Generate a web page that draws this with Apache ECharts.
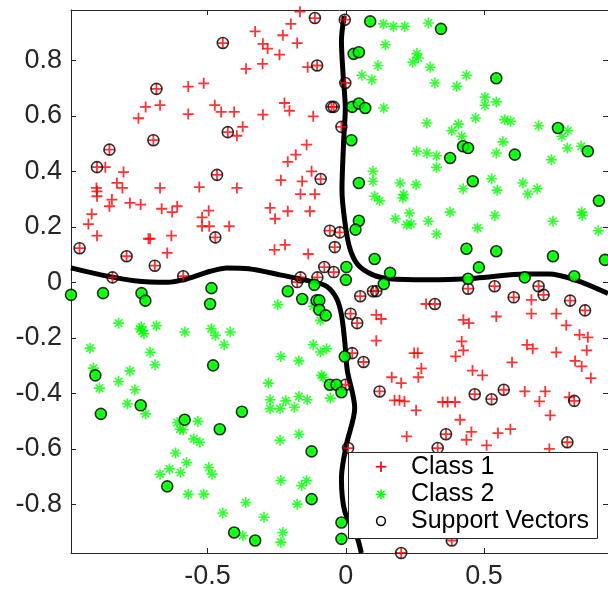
<!DOCTYPE html>
<html><head><meta charset="utf-8">
<script src="https://cdn.jsdelivr.net/npm/echarts@6/dist/echarts.min.js"></script>
<style>html,body{margin:0;padding:0;background:#fff}#c{width:608px;height:592px}</style>
</head><body><div id="c"></div>
<script>
// Class 1 (red +), not support vectors
const class1 = [
[-0.361,0.769],[-0.570,0.705],[-0.514,0.717],[-0.724,0.632],[-0.672,0.638],[-0.750,0.591],[-0.570,0.606],[-0.474,0.638],[-0.451,0.614],[-0.404,0.614],[-0.373,0.560],[-0.394,0.528],[-0.870,0.415],[-0.804,0.397],[-0.828,0.358],[-0.808,0.340],[-0.902,0.340],[-0.672,0.340],[-0.530,0.343],[-0.394,0.340],
[-0.166,0.975],[-0.199,0.931],[-0.328,0.904],[-0.228,0.890],[-0.300,0.859],[-0.283,0.842],[-0.176,0.862],[-0.240,0.820],[-0.301,0.787],[-0.138,0.775],[-0.222,0.646],[-0.204,0.618],[-0.300,0.604],[-0.118,0.598],[-0.142,0.496],[-0.181,0.460],[-0.210,0.434],[-0.124,0.400],[-0.235,0.368],[-0.158,0.364],
[-0.900,0.328],[-0.900,0.310],[-0.846,0.298],[-0.855,0.274],[-0.781,0.286],[-0.742,0.280],[-0.666,0.265],[-0.628,0.253],[-0.610,0.274],[-0.919,0.246],[-0.931,0.210],[-0.900,0.168],[-0.496,0.258],[-0.520,0.234],[-0.520,0.202],[-0.494,0.202],[-0.422,0.202],[-0.714,0.157],[-0.708,0.157],[-0.631,0.168],[-0.646,0.106],
[-0.164,0.318],[-0.112,0.318],[-0.274,0.268],[-0.256,0.229],[-0.210,0.256],[-0.130,0.256],[-0.258,0.117],[-0.220,0.135],[-0.136,0.102],[0.110,-0.117],[0.128,-0.132],[0.110,-0.210],[0.290,-0.078],[0.247,-0.255],[0.260,-0.255],[0.273,-0.310],
[0.671,-0.063],[0.671,-0.113],[0.544,-0.123],[0.761,-0.113],[0.797,-0.155],[0.425,-0.135],[0.445,-0.147],[0.845,-0.189],[0.875,-0.198],[0.419,-0.213],[0.425,-0.245],[0.397,-0.267],[0.655,-0.225],[0.676,-0.239],[0.761,-0.252],[0.871,-0.245],[0.829,-0.283],[0.853,-0.303],[0.601,-0.288],[0.458,-0.318],
[0.166,-0.342],[0.200,-0.363],[0.262,-0.342],[0.176,-0.425],[0.194,-0.425],[0.212,-0.429],[0.254,-0.461],[0.220,-0.555],
[0.494,-0.335],[0.886,-0.345],[0.647,-0.393],[0.721,-0.393],[0.700,-0.429],[0.739,-0.479],[0.808,-0.414],[0.350,-0.431],[0.368,-0.431],[0.395,-0.431],[0.413,-0.495],[0.454,-0.539],[0.436,-0.567],[0.550,-0.543],[0.595,-0.529],[0.509,-0.587],[0.736,-0.600]
];
// Class 1 support vectors
const sv1 = [
[-0.445,0.862],[-0.685,0.697],[-0.427,0.541],[-0.696,0.512],[-0.855,0.478],[-0.900,0.415],[-0.466,0.387],
[-0.112,0.952],[-0.004,0.946],[-0.104,0.781],[-0.002,0.718],[-0.052,0.632],[-0.044,0.632],[-0.016,0.560],[-0.091,0.372],
[-0.472,0.162],[-0.963,0.123],[-0.793,0.094],[-0.691,0.060],[-0.844,0.018],[-0.588,0.022],
[-0.058,0.186],[-0.022,0.180],[-0.040,0.127],[-0.078,0.055],[-0.044,0.037],[-0.103,0.018],[-0.164,0.018],[-0.176,0.001],
[0.052,-0.050],[0.098,-0.032],[0.110,-0.032],[0.017,-0.113],[0.041,-0.147],[0.023,-0.255],[0.064,-0.287],
[0.442,-0.023],[0.538,-0.014],[0.697,-0.014],[0.715,-0.045],[0.607,-0.054],[0.811,-0.066],[0.865,-0.101],[0.322,-0.078],
[-0.001,-0.369],[0.122,-0.393],[0.008,-0.597],[0.200,-0.975],
[0.466,-0.403],[0.527,-0.421],[0.571,-0.387],[0.826,-0.427],[0.362,-0.547],[0.801,-0.576],[0.332,-0.597],[0.383,-0.930]
];
// Class 2 (green *), not support vectors
const class2 = [
[0.136,0.931],[0.172,0.922],[0.213,0.922],[0.298,0.934],[0.143,0.856],[0.257,0.824],[0.262,0.808],[0.242,0.793],[0.116,0.781],[0.305,0.775],[0.058,0.746],[0.094,0.730],[0.137,0.628],[0.293,0.574],[0.256,0.472],[0.293,0.466],[0.098,0.400],[0.098,0.364],[0.196,0.358],[0.254,0.352],
[0.436,0.746],[0.322,0.718],[0.401,0.706],[0.503,0.667],[0.503,0.638],[0.544,0.650],[0.469,0.592],[0.574,0.586],[0.596,0.580],[0.407,0.570],[0.383,0.546],[0.419,0.526],[0.328,0.456],[0.328,0.414],[0.568,0.506],[0.544,0.466],[0.697,0.564],[0.803,0.546],[0.781,0.526],[0.801,0.484],[0.851,0.490],[0.743,0.442],[0.527,0.373],[0.640,0.358],[0.692,0.337],[0.424,0.337],[0.547,0.332],
[-0.822,-0.147],[-0.745,-0.168],[-0.736,-0.175],[-0.730,-0.185],[-0.740,-0.160],[-0.685,-0.156],[-0.582,-0.179],[-0.487,-0.167],[-0.472,-0.191],[-0.418,-0.179],[-0.440,-0.225],[-0.925,-0.237],[-0.708,-0.252],[-0.690,-0.297],[-0.913,-0.309],[-0.781,-0.319],
[-0.246,-0.081],[-0.118,-0.086],[-0.092,-0.137],[-0.118,-0.225],[-0.070,-0.239],[-0.092,-0.251],[-0.235,-0.267],[-0.170,-0.283],[0.104,0.310],[0.122,0.294],[0.209,0.316],[0.206,0.304],[0.230,0.250],[0.179,0.229],[0.220,0.208],[0.236,0.210],[0.298,0.220],
[0.658,0.318],[0.377,0.253],[0.539,0.241],[0.328,0.174],[0.476,0.196],[0.749,0.220],[0.853,0.253],[0.855,0.241],[0.913,0.186],
[-0.891,-0.381],[-0.822,-0.357],[-0.763,-0.387],[-0.790,-0.437],[-0.724,-0.474],[-0.610,-0.505],[-0.600,-0.529],[-0.588,-0.531],[-0.535,-0.501],[-0.550,-0.564],[-0.528,-0.576],[-0.616,-0.615],[-0.576,-0.649],[-0.672,-0.691],[-0.638,-0.672],[-0.598,-0.685],[-0.496,-0.667],[-0.484,-0.691],[-0.570,-0.763],[-0.514,-0.763],[-0.362,-0.793],[-0.445,-0.831],[-0.373,-0.913],
[-0.082,-0.342],[-0.088,-0.335],[-0.280,-0.363],[-0.274,-0.423],[-0.274,-0.455],[-0.238,-0.455],[-0.217,-0.427],[-0.186,-0.450],[-0.170,-0.411],[-0.140,-0.423],[-0.056,-0.417],[-0.238,-0.569],[-0.170,-0.547],[-0.235,-0.714],[-0.160,-0.732],[-0.142,-0.714],[-0.176,-0.799],[-0.296,-0.846],[-0.228,-0.901],[-0.235,-0.936]
];
// Class 2 support vectors
const sv2 = [
[0.088,0.940],[0.028,0.823],[0.047,0.829],[0.023,0.632],[0.047,0.644],[0.070,0.628],[0.020,0.512],[0.047,0.358],
[0.344,0.913],[0.544,0.735],[0.424,0.490],[0.442,0.484],[0.377,0.448],[0.611,0.460],[0.767,0.556],[0.875,0.472],[0.459,0.364],
[-0.994,-0.045],[-0.878,-0.039],[-0.739,-0.039],[-0.725,-0.066],[-0.486,-0.021],[-0.491,-0.078],[-0.480,-0.299],
[0.047,0.222],[0.035,0.190],[0.104,0.084],[0.002,0.055],[0.000,0.009],[0.160,0.034],[0.137,-0.006],[-0.114,-0.009],[-0.210,-0.032],[-0.158,-0.060],[-0.106,-0.065],[-0.096,-0.065],[-0.096,-0.099],[-0.073,-0.119],[-0.004,-0.267],
[0.915,0.294],[0.436,0.121],[0.544,0.112],[0.749,0.094],[0.937,0.081],[0.481,0.054],[0.442,0.013],[0.647,0.018],[0.826,0.022],
[-0.906,-0.335],[-0.886,-0.474],[-0.742,-0.443],[-0.583,-0.495],[-0.456,-0.529],[-0.376,-0.466],[-0.646,-0.735],[-0.404,-0.901],
[-0.058,-0.369],[-0.034,-0.369],[-0.016,-0.396],[-0.124,-0.609],[-0.124,-0.781],[-0.328,-0.930],[-0.016,-0.865],[-0.016,-0.924]
];
// decision boundary (two contour pieces)
const boundaryA = [
[-0.006,0.960],[-0.016,0.870],[-0.010,0.747],[-0.002,0.628],[-0.008,0.509],[-0.014,0.333],[-0.004,0.221],[0.014,0.124],[0.044,0.063],[0.098,0.027],[0.158,0.013],[0.297,0.009],[0.469,0.015],[0.649,0.030],[0.733,0.030],[0.829,0.009],[0.948,-0.040]
];
const boundaryB = [
[-0.994,0.052],[-0.886,0.027],[-0.765,0.006],[-0.646,0.000],[-0.574,0.013],[-0.490,0.040],[-0.430,0.052],[-0.351,0.049],[-0.238,0.027],[-0.118,0.001],[-0.070,-0.014],[-0.034,-0.057],[-0.016,-0.117],[-0.004,-0.213],[0.005,-0.316],[0.032,-0.453],[0.002,-0.585],[-0.016,-0.705],[-0.004,-0.825],[0.038,-0.910],[0.056,-0.975]
];
const xTicks = [-0.5, 0, 0.5];
const yTicks = [-0.8, -0.6, -0.4, -0.2, 0, 0.2, 0.4, 0.6, 0.8];
const xRange = [-0.994, 0.948];
const yRange = [-0.975, 0.981];
const legendNames = ['Class 1', 'Class 2', 'Support Vectors'];

const AX = '#262626';
const FONT = '"Liberation Sans", Arial, Helvetica, sans-serif';
const PLUS = 'path://M0,5L10,5M5,0L5,10';
const STAR = 'path://M0,5L10,5M5,0L5,10M1.6,1.6L8.4,8.4M1.6,8.4L8.4,1.6';

const chart = echarts.init(document.getElementById('c'), null, {renderer: 'canvas'});
const baseX = {type: 'value', min: xRange[0], max: xRange[1], splitLine: {show: false}};
const baseY = {type: 'value', min: yRange[0], max: yRange[1], splitLine: {show: false}};

// legend drawn as graphic (box + icons + labels)
const LX = 348.5, LY = 452.5, LW = 249, LH = 86;
const rowY = [466.7, 494.3, 521];
const iconX = 381, textX = 411;
function seg(x1, y1, x2, y2, color, w) {
  return {type: 'line', shape: {x1: x1, y1: y1, x2: x2, y2: y2}, style: {stroke: color, lineWidth: w}, z: 101};
}
const legendGraphic = [
  {type: 'rect', shape: {x: LX, y: LY, width: LW, height: LH}, style: {fill: '#fff', stroke: AX, lineWidth: 1}, z: 100},
  seg(iconX - 5.3, rowY[0], iconX + 5.3, rowY[0], '#ff0000', 1.7),
  seg(iconX, rowY[0] - 5.3, iconX, rowY[0] + 5.3, '#ff0000', 1.7),
  seg(iconX - 5, rowY[1], iconX + 5, rowY[1], '#00ff00', 1.5),
  seg(iconX, rowY[1] - 5, iconX, rowY[1] + 5, '#00ff00', 1.5),
  seg(iconX - 3.5, rowY[1] - 3.5, iconX + 3.5, rowY[1] + 3.5, '#00ff00', 1.5),
  seg(iconX - 3.5, rowY[1] + 3.5, iconX + 3.5, rowY[1] - 3.5, '#00ff00', 1.5),
  {type: 'circle', shape: {cx: iconX, cy: rowY[2], r: 4.4}, style: {stroke: '#000', lineWidth: 1.5, fill: 'rgba(0,0,0,0)'}, z: 101}
].concat(legendNames.map((t, i) => ({
  type: 'text', x: textX, y: rowY[i], z: 101,
  style: {text: t, fill: '#000', fontSize: 25, fontFamily: FONT, verticalAlign: 'middle', align: 'left'}
})));

chart.setOption({
  animation: false,
  backgroundColor: '#fff',
  grid: {left: 71, right: -3, top: 10, bottom: 39, containLabel: false},
  xAxis: [
    Object.assign({}, baseX, {position: 'bottom',
      axisLine: {show: true, onZero: false, lineStyle: {color: AX, width: 1}},
      axisTick: {show: true, inside: true, length: 5, customValues: xTicks, lineStyle: {color: AX}},
      axisLabel: {show: true, customValues: xTicks, color: AX, fontSize: 27, fontFamily: FONT, margin: 10}}),
    Object.assign({}, baseX, {position: 'top',
      axisLine: {show: true, onZero: false, lineStyle: {color: AX, width: 1}},
      axisTick: {show: true, inside: true, length: 5, customValues: xTicks, lineStyle: {color: AX}},
      axisLabel: {show: false}})
  ],
  yAxis: [
    Object.assign({}, baseY, {position: 'left',
      axisLine: {show: true, onZero: false, lineStyle: {color: AX, width: 1}},
      axisTick: {show: true, inside: true, length: 5, customValues: yTicks, lineStyle: {color: AX}},
      axisLabel: {show: true, customValues: yTicks, color: AX, fontSize: 27, fontFamily: FONT, margin: 9}}),
    Object.assign({}, baseY, {position: 'right',
      axisLine: {show: true, onZero: false, lineStyle: {color: AX, width: 1}},
      axisTick: {show: true, inside: true, length: 5, customValues: yTicks, lineStyle: {color: AX}},
      axisLabel: {show: false}})
  ],
  legend: {show: false},
  graphic: legendGraphic,
  series: [
    {type: 'line', name: 'bA', data: boundaryA, showSymbol: false, smooth: 0.3, clip: false,
     lineStyle: {color: '#000', width: 5}, z: 1, silent: true},
    {type: 'line', name: 'bB', data: boundaryB, showSymbol: false, smooth: 0.3, clip: false,
     lineStyle: {color: '#000', width: 5}, z: 1, silent: true},
    {type: 'scatter', name: legendNames[0], data: class1.concat(sv1), symbol: PLUS, symbolSize: 11, clip: false,
     itemStyle: {color: '#ff0000', borderColor: '#ff0000', borderWidth: 1.8}, z: 2},
    {type: 'scatter', name: legendNames[1], data: class2.concat(sv2), symbol: STAR, symbolSize: 11, clip: false,
     itemStyle: {color: '#00ff00', borderColor: '#00ff00', borderWidth: 1.6}, z: 2},
    {type: 'scatter', name: legendNames[2], symbol: 'circle', symbolSize: 11, clip: false,
     data: sv1.map(p => ({value: p})).concat(sv2.map(p => ({value: p, itemStyle: {color: '#00ff00'}}))),
     itemStyle: {color: 'rgba(0,0,0,0)', borderColor: '#000', borderWidth: 1.6}, z: 3}
  ]
});
</script></body></html>
